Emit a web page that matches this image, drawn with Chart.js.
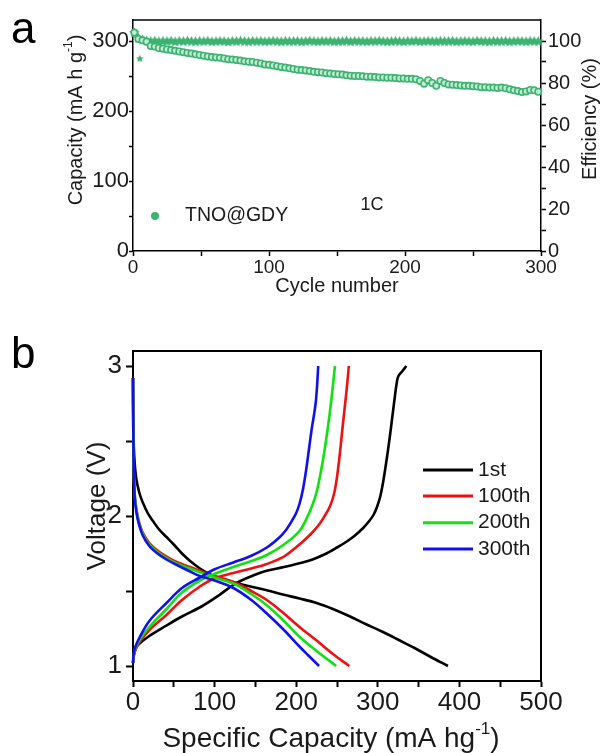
<!DOCTYPE html>
<html><head><meta charset="utf-8">
<script src="https://cdn.jsdelivr.net/npm/chart.js@4.4.0/dist/chart.umd.min.js"></script>
<style>
html,body{margin:0;padding:0;background:#fff;width:603px;height:753px;overflow:hidden}
canvas{position:absolute;left:0}
#c1{top:0}
#c2{top:300px}
</style></head>
<body>
<canvas id="c1" width="603" height="300"></canvas>
<canvas id="c2" width="603" height="453"></canvas>
<script>
// ---------- Panel a data ----------
const cycles = [
  1,4,7,10,13,16,19,22,25,28,
  31,34,37,40,43,46,49,52,55,58,
  61,64,67,70,73,76,79,82,85,88,
  91,94,97,100,103,106,109,112,115,118,
  121,124,127,130,133,136,139,142,145,148,
  151,154,157,160,163,166,169,172,175,178,
  181,184,187,190,193,196,199,202,205,208,
  211,214,217,220,223,226,229,232,235,238,
  241,244,247,250,253,256,259,262,265,268,
  271,274,277,280,283,286,289,292,295,298];
const capacity = [
  312,303,301,299,293,292,290,289,288,287,
  286,285,284,283,282,281,280,279,278,277,
  276.5,276,275,274,273.5,273,272,271,270.5,270,
  269,268,266.5,266,265,264,263,262,261,260,
  259,258.5,258,257,256,255.5,255,254,253.5,253,
  252.5,252,251,250.5,250,250,249.5,249,249,248.5,
  248,248,247.5,247.5,247,246.5,246.5,246,246,245.5,
  243,239,244,240,236,243,240,238,237.5,237,
  236.5,236,236,235.5,235,234,234,233.5,233.5,233,
  233.5,232.5,231,229.5,228.5,227,228,230,229.5,227.5];
const efficiency = [
  104.0,101.5,100.8,100.3,100.0,100.2,99.9,100.1,100.0,100.2,
  99.8,100.1,100.0,100.2,100.0,99.9,100.1,100.0,100.2,99.9,
  100.0,100.1,100.0,99.8,100.1,100.0,100.2,100.0,99.9,100.1,
  100.0,100.1,99.9,100.0,100.2,100.0,99.9,100.1,100.0,100.0,
  100.1,99.9,100.0,100.2,100.0,99.9,100.1,100.0,100.1,99.9,
  100.0,100.0,100.2,99.9,100.1,100.0,100.0,99.9,100.1,100.0,
  100.2,100.0,99.9,100.0,100.1,100.0,99.9,100.1,100.0,100.2,
  99.9,100.0,100.1,100.0,99.9,100.1,100.0,100.0,100.1,99.9,
  100.0,100.1,100.0,99.9,100.2,100.0,100.0,99.9,100.1,100.0,
  100.0,100.1,99.9,100.0,100.1,100.0,99.9,100.1,100.0,100.0];
const outlierCycles = [5];
const outlierEfficiency = [91.8];
const cycleTickLabels = [0,100,200,300];
const capacityTickLabels = [0,100,200,300];
const efficiencyTickLabels = [0,20,40,60,80,100];

// ---------- Panel b data ----------
const seriesNames = ['1st','100th','200th','300th'];
const dis1Cap = [0,0.5,1.5,4,8,12,18,24,32,41,50,60,70,82,95,110,123,140,164,185,204,225,245,266,285,305,327,345,365,386];
const dis1V   = [2.92,2.6,2.4,2.25,2.15,2.09,2.02,1.97,1.91,1.86,1.81,1.75,1.70,1.65,1.61,1.58,1.56,1.535,1.505,1.475,1.45,1.42,1.38,1.33,1.28,1.23,1.17,1.12,1.06,1.0];
const chg1Cap = [0,1,3,6,20,41,60,85,105,120,131,148,164,185,204,220,235,250,262,272,282,290,295,299,303,306,309,312,315,318,321,323,325,330,335];
const chg1V   = [1.02,1.07,1.11,1.14,1.20,1.27,1.33,1.40,1.47,1.53,1.565,1.605,1.635,1.66,1.685,1.71,1.745,1.79,1.83,1.87,1.92,1.97,2.01,2.06,2.13,2.21,2.31,2.42,2.54,2.67,2.80,2.88,2.93,2.965,3.0];
const dis100Cap = [0,0.3,1,2,4,7,12,20,30,41,55,70,82,100,123,145,164,185,204,225,245,265];
const dis100V   = [2.92,2.6,2.3,2.15,2.05,1.97,1.89,1.82,1.77,1.73,1.69,1.66,1.635,1.60,1.56,1.50,1.44,1.35,1.26,1.17,1.08,1.0];
const chg100Cap = [0,1,3,8,20,41,60,82,100,123,145,164,185,204,218,229,236,241,245,248,251,254,257,260,262.5,264.5];
const chg100V   = [1.02,1.07,1.11,1.16,1.24,1.34,1.44,1.53,1.585,1.62,1.65,1.68,1.73,1.81,1.88,1.95,2.01,2.06,2.12,2.19,2.30,2.44,2.60,2.75,2.88,3.0];
const dis200Cap = [0,0.3,1,2,4,7,12,20,30,41,55,70,82,100,123,145,164,185,204,225,249];
const dis200V   = [2.92,2.6,2.3,2.15,2.05,1.96,1.88,1.81,1.76,1.72,1.68,1.65,1.625,1.59,1.55,1.48,1.405,1.30,1.195,1.10,1.0];
const chg200Cap = [0,1,3,8,20,41,60,82,100,123,145,164,185,204,215,221,225,229,233,237,241,244,247.5];
const chg200V   = [1.02,1.08,1.12,1.175,1.26,1.38,1.49,1.57,1.615,1.66,1.70,1.74,1.81,1.90,2.01,2.09,2.16,2.26,2.38,2.52,2.68,2.82,3.0];
const dis300Cap = [0,0.3,1,2,4,7,12,20,30,41,55,70,82,100,123,145,164,185,204,215,228];
const dis300V   = [2.92,2.6,2.3,2.13,2.03,1.95,1.87,1.80,1.75,1.71,1.67,1.63,1.60,1.57,1.52,1.44,1.35,1.24,1.13,1.07,1.0];
const chg300Cap = [0,1,3,8,20,41,60,82,100,123,145,164,180,188,195,200,204,208,212,216,219,222,224,225.5,227];
const chg300V   = [1.02,1.09,1.13,1.19,1.30,1.42,1.52,1.59,1.645,1.69,1.735,1.79,1.86,1.91,1.97,2.02,2.08,2.17,2.30,2.46,2.58,2.68,2.76,2.86,3.0];
const specCapTickLabels = [0,100,200,300,400,500];
const voltageTickLabels = [1,2,3];

// ---------- helpers ----------
const FONT = "Arial, 'Liberation Sans', sans-serif";
const TXT = '#1a1a1a';
Chart.defaults.font.family = FONT;
Chart.defaults.color = TXT;
const zip = (xs, ys) => xs.map((x, i) => ({x: x, y: ys[i]}));
const GREEN = '#3cb371';

function makeStar(size, color) {
  const c = document.createElement('canvas');
  c.width = c.height = size;
  const g = c.getContext('2d');
  const r = size / 2, ri = r * 0.5;
  g.beginPath();
  for (let i = 0; i < 10; i++) {
    const a = -Math.PI / 2 + i * Math.PI / 5;
    const rr = i % 2 ? ri : r;
    g.lineTo(r + rr * Math.cos(a), r + 0.5 + rr * Math.sin(a));
  }
  g.closePath();
  g.fillStyle = color;
  g.fill();
  return c;
}
const starBig = makeStar(11, GREEN);
const starSmall = makeStar(8, GREEN);

function drawRich(ctx, parts, cx, cy, rot) {
  ctx.save();
  ctx.translate(cx, cy);
  ctx.rotate(rot);
  ctx.textBaseline = 'middle';
  ctx.textAlign = 'left';
  ctx.fillStyle = TXT;
  let total = 0;
  parts.forEach(p => { ctx.font = p.font; p.w = ctx.measureText(p.t).width; total += p.w; });
  let x = -total / 2;
  parts.forEach(p => { ctx.font = p.font; ctx.fillText(p.t, x, p.dy || 0); x += p.w; });
  ctx.restore();
}
const f = (s) => s + 'px ' + FONT;

function axisOpts(o) {
  return {
    type: 'linear',
    position: o.position,
    min: o.min, max: o.max,
    ticks: {
      stepSize: o.step, includeBounds: false, autoSkip: false, maxRotation: 0,
      padding: o.pad, font: {size: o.size}, color: TXT,
      callback: v => o.labels.includes(Math.round(v * 1000) / 1000) ? String(v) : ''
    },
    grid: {
      drawOnChartArea: false, drawTicks: true, tickLength: o.tl, tickWidth: o.bw,
      tickColor: o.tickColor || '#000', color: '#000'
    },
    border: {display: true, color: '#000', width: o.bw},
    afterFit: o.fit
  };
}

// ---------- Panel a ----------
const plugA = {
  id: 'plugA',
  afterDraw(chart) {
    const ctx = chart.ctx;
    const ca = chart.chartArea;
    ctx.save();
    ctx.strokeStyle = '#000';
    ctx.lineWidth = 1.5;
    ctx.beginPath();
    ctx.moveTo(ca.left, ca.top);
    ctx.lineTo(ca.right, ca.top);
    ctx.stroke();
    ctx.fillStyle = '#000';
    ctx.font = f(44);
    ctx.textBaseline = 'alphabetic';
    ctx.textAlign = 'left';
    ctx.fillText('a', 11, 43);
    ctx.restore();
    drawRich(ctx, [{t: 'Capacity (mA h g', font: f(20)}, {t: '-1', font: f(12), dy: -7}, {t: ')', font: f(20)}], 76, 120, -Math.PI / 2);
    drawRich(ctx, [{t: 'Efficiency (%)', font: f(20)}], 590, 119, -Math.PI / 2);
    drawRich(ctx, [{t: 'Cycle number', font: f(20)}], 337, 286, 0);
    drawRich(ctx, [{t: '1C', font: f(18)}], 372, 205, 0);
    ctx.save();
    ctx.beginPath();
    ctx.arc(155, 216, 4, 0, Math.PI * 2);
    ctx.fillStyle = GREEN;
    ctx.fill();
    ctx.font = f(19.5);
    ctx.fillStyle = TXT;
    ctx.textBaseline = 'middle';
    ctx.textAlign = 'left';
    ctx.fillText('TNO@GDY', 185, 216);
    ctx.restore();
  }
};

new Chart(document.getElementById('c1'), {
  type: 'scatter',
  data: {
    datasets: [
      {label: 'Capacity', data: zip(cycles, capacity), yAxisID: 'y', showLine: false, clip: false,
       pointStyle: 'circle', pointRadius: 3.2, pointBackgroundColor: '#c4ebd3', pointBorderColor: GREEN, pointBorderWidth: 1.6},
      {label: 'Efficiency', data: zip(cycles, efficiency), yAxisID: 'y1', showLine: false, clip: false,
       pointStyle: starBig, pointRadius: 5},
      {label: 'Efficiency first', data: zip(outlierCycles, outlierEfficiency), yAxisID: 'y1', showLine: false, clip: false,
       pointStyle: starSmall, pointRadius: 4}
    ]
  },
  options: {
    responsive: false, animation: false, devicePixelRatio: 1,
    layout: {padding: {top: 20, left: 0, right: 0, bottom: 0}},
    plugins: {legend: {display: false}, tooltip: {enabled: false}},
    scales: {
      x: axisOpts({position: 'bottom', min: 0, max: 300, step: 50, pad: 0, size: 19, tl: 5, bw: 1.5,
                   labels: cycleTickLabels, fit: s => { s.height = 49; }}),
      y: axisOpts({position: 'left', min: 0, max: 330, step: 50, pad: 0, size: 22, tl: 4, bw: 1.5,
                   labels: capacityTickLabels, fit: s => { s.width = 133; }}),
      y1: axisOpts({position: 'right', min: 0, max: 110, step: 10, pad: 2, size: 20, tl: 5, bw: 1.5,
                    labels: efficiencyTickLabels, fit: s => { s.width = 62; },
                    tickColor: c => (c.tick && c.tick.value > 100) ? 'rgba(0,0,0,0)' : '#000'})
    }
  },
  plugins: [plugA]
});

// ---------- Panel b ----------
const colors = ['#000000', '#ee1111', '#11e011', '#1010ee'];
const legendY = [170, 196, 222.7, 249];
const plugB = {
  id: 'plugB',
  afterDraw(chart) {
    const ctx = chart.ctx;
    const ca = chart.chartArea;
    ctx.save();
    ctx.strokeStyle = '#000';
    ctx.lineWidth = 2;
    ctx.beginPath();
    ctx.moveTo(ca.left, ca.top);
    ctx.lineTo(ca.right, ca.top);
    ctx.lineTo(ca.right, ca.bottom);
    ctx.stroke();
    ctx.fillStyle = '#000';
    ctx.font = f(44);
    ctx.textBaseline = 'alphabetic';
    ctx.textAlign = 'left';
    ctx.fillText('b', 11, 68);
    seriesNames.forEach((n, i) => {
      ctx.strokeStyle = colors[i];
      ctx.lineWidth = 3;
      ctx.beginPath();
      ctx.moveTo(423, legendY[i]);
      ctx.lineTo(473, legendY[i]);
      ctx.stroke();
      ctx.fillStyle = TXT;
      ctx.font = f(21);
      ctx.textBaseline = 'middle';
      ctx.fillText(n, 478, legendY[i]);
    });
    ctx.restore();
    drawRich(ctx, [{t: 'Voltage (V)', font: f(26)}], 98, 206, -Math.PI / 2);
    drawRich(ctx, [{t: 'Specific Capacity (mA hg', font: f(28)}, {t: '-1', font: f(17), dy: -10}, {t: ')', font: f(28)}], 331, 439, 0);
  }
};

function curve(xs, ys, color, order) {
  return {data: zip(xs, ys), showLine: true, borderColor: color, borderWidth: 2.6, pointRadius: 0,
          tension: 0.35, fill: false, clip: false, order: order};
}

new Chart(document.getElementById('c2'), {
  type: 'scatter',
  data: {
    datasets: [
      curve(dis1Cap, dis1V, colors[0], 4), curve(chg1Cap, chg1V, colors[0], 4),
      curve(dis100Cap, dis100V, colors[1], 3), curve(chg100Cap, chg100V, colors[1], 3),
      curve(dis200Cap, dis200V, colors[2], 2), curve(chg200Cap, chg200V, colors[2], 2),
      curve(dis300Cap, dis300V, colors[3], 1), curve(chg300Cap, chg300V, colors[3], 1)
    ]
  },
  options: {
    responsive: false, animation: false, devicePixelRatio: 1,
    layout: {padding: {top: 51, left: 0, right: 62, bottom: 0}},
    plugins: {legend: {display: false}, tooltip: {enabled: false}},
    scales: {
      x: axisOpts({position: 'bottom', min: 0, max: 500, step: 50, pad: 0, size: 26, tl: 6, bw: 2,
                   labels: specCapTickLabels, fit: s => { s.height = 72; }}),
      y: axisOpts({position: 'left', min: 0.9, max: 3.1, step: 0.5, pad: 4, size: 26, tl: 7, bw: 2,
                   labels: voltageTickLabels, fit: s => { s.width = 133; }})
    }
  },
  plugins: [plugB]
});
</script>
</body></html>
